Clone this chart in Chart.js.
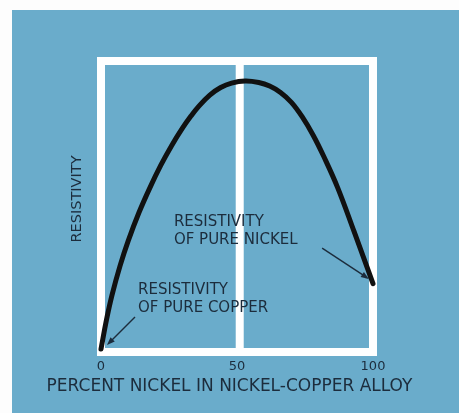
<!DOCTYPE html>
<html><head><meta charset="utf-8">
<script src="https://cdn.jsdelivr.net/npm/chart.js@4/dist/chart.umd.min.js"></script>
<style>
html,body{margin:0;padding:0;background:#fdfdfd;}
#wrap{position:absolute;left:12px;top:10px;width:447px;height:403px;background:#6aaccb;}
canvas{display:block;}
</style></head><body>
<div id="wrap"><canvas id="c" width="447" height="403"></canvas></div>
<script>
const nickelPercent = [0, 2, 4, 7, 10, 14, 18, 22, 26, 30, 33, 36, 40, 44, 48, 53, 58, 62, 66, 70, 74, 78, 82, 87, 93, 100];
const resistivity   = [1, 11, 19.4, 29.6, 38.2, 48, 56.5, 64.2, 71, 77, 81, 84.5, 88.3, 90.9, 92.4, 93.1, 92.6, 91.4, 89.2, 85.8, 80.8, 74.5, 67, 56.5, 41.5, 23.5];
const xTickValues = [0, 50, 100];
const xTitle = 'PERCENT NICKEL IN NICKEL-COPPER ALLOY';
const yTitle = 'RESISTIVITY';
const nickelNote = ['RESISTIVITY', 'OF PURE NICKEL'];
const copperNote = ['RESISTIVITY', 'OF PURE COPPER'];

const ink = '#1c2c3c';
const FONT = '"DejaVu Sans", sans-serif';

const framePlugin = {
  id: 'frame',
  beforeDatasetsDraw(chart) {
    const {ctx, scales: {x, y}} = chart;
    const l = x.getPixelForValue(0), r = x.getPixelForValue(100);
    const t = y.getPixelForValue(100), b = y.getPixelForValue(0);
    const m = x.getPixelForValue(51);
    ctx.save();
    ctx.strokeStyle = '#ffffff';
    ctx.lineWidth = 8;
    ctx.lineJoin = 'miter';
    ctx.strokeRect(l, t, r - l, b - t);
    ctx.beginPath(); ctx.moveTo(m, t); ctx.lineTo(m, b); ctx.stroke();
    ctx.restore();
  }
};

const titlesPlugin = {
  id: 'axisTitles',
  afterDraw(chart, args, opts) {
    const {ctx, scales: {x, y}} = chart;
    ctx.save();
    ctx.fillStyle = ink;
    ctx.textAlign = 'center'; ctx.textBaseline = 'middle';
    ctx.font = opts.xFont;
    ctx.fillText(opts.xText, (x.left + x.right) / 2 - 7.5, x.bottom - 26);
    ctx.translate(y.right - 24, (y.top + y.bottom) / 2 - 7.5);
    ctx.rotate(-Math.PI / 2);
    ctx.font = opts.yFont;
    ctx.fillText(opts.yText, 0, 0);
    ctx.restore();
  }
};

const notesPlugin = {
  id: 'notes',
  afterDatasetsDraw(chart, args, opts) {
    const {ctx, scales: {x, y}} = chart;
    ctx.save();
    ctx.fillStyle = ink; ctx.strokeStyle = ink;
    ctx.font = opts.font;
    ctx.textAlign = 'left'; ctx.textBaseline = 'middle';
    for (const n of opts.items) {
      const px = x.getPixelForValue(n.x), py = y.getPixelForValue(n.y);
      n.lines.forEach((s, i) => ctx.fillText(s, px, py + i * opts.lineGap));
      const ax0 = x.getPixelForValue(n.from[0]), ay0 = y.getPixelForValue(n.from[1]);
      const ax1 = x.getPixelForValue(n.to[0]), ay1 = y.getPixelForValue(n.to[1]);
      const ang = Math.atan2(ay1 - ay0, ax1 - ax0);
      const hl = 8, hw = 3;
      ctx.lineWidth = 1.4;
      ctx.beginPath(); ctx.moveTo(ax0, ay0);
      ctx.lineTo(ax1 - Math.cos(ang) * hl * 0.8, ay1 - Math.sin(ang) * hl * 0.8); ctx.stroke();
      ctx.beginPath();
      ctx.moveTo(ax1, ay1);
      ctx.lineTo(ax1 - Math.cos(ang) * hl - Math.sin(ang) * hw, ay1 - Math.sin(ang) * hl + Math.cos(ang) * hw);
      ctx.lineTo(ax1 - Math.cos(ang) * hl + Math.sin(ang) * hw, ay1 - Math.sin(ang) * hl - Math.cos(ang) * hw);
      ctx.closePath(); ctx.fill();
    }
    ctx.restore();
  }
};

new Chart(document.getElementById('c'), {
  type: 'line',
  data: {
    datasets: [{
      data: nickelPercent.map((v, i) => ({x: v, y: resistivity[i]})),
      borderColor: '#111111',
      borderWidth: 5,
      pointRadius: 0,
      fill: false,
      tension: 0.4,
      borderCapStyle: 'round',
      borderJoinStyle: 'round',
      clip: false
    }]
  },
  options: {
    responsive: false,
    devicePixelRatio: 1,
    animation: false,
    events: [],
    layout: {padding: {left: 0, right: 86, top: 51, bottom: 0}},
    plugins: {
      legend: {display: false},
      tooltip: {enabled: false},
      axisTitles: {
        xText: xTitle, xFont: '17px ' + FONT,
        yText: yTitle, yFont: '14.5px ' + FONT
      },
      notes: {
        font: '15px ' + FONT,
        lineGap: 18,
        items: [
          {lines: nickelNote, x: 26.8, y: 44.7, from: [81.3, 35.7], to: [98.5, 25.1]},
          {lines: copperNote, x: 13.6, y: 21.3, from: [12.5, 12.0], to: [2.2, 2.4]}
        ]
      }
    },
    scales: {
      x: {
        type: 'linear', min: 0, max: 100,
        afterBuildTicks: s => { s.ticks = xTickValues.map(v => ({value: v})); },
        afterFit: s => { s.height = 61; },
        grid: {display: false, drawTicks: false},
        border: {display: false},
        ticks: {color: ink, font: {family: FONT, size: 13}, padding: 7, maxRotation: 0, autoSkip: false},
        title: {display: false}
      },
      y: {
        type: 'linear', min: 0, max: 100,
        afterFit: s => { s.width = 89; },
        grid: {display: false, drawTicks: false},
        border: {display: false},
        ticks: {display: false},
        title: {display: false}
      }
    }
  },
  plugins: [framePlugin, notesPlugin, titlesPlugin]
});
</script>
</body></html>
